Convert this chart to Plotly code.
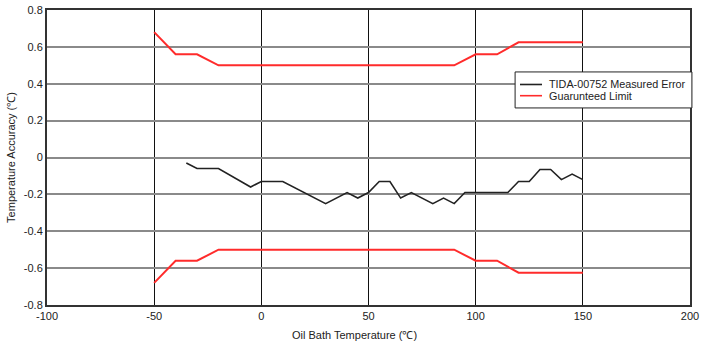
import plotly.graph_objects as go

# Measured error of the TIDA-00752 design vs. oil bath temperature
temp_measured = [-35, -30, -20, -5, 0, 10, 30, 40, 45, 50, 55, 60, 65, 70, 80, 85, 90, 95,
                 115, 120, 125, 130, 135, 140, 145, 150]
error_measured = [-0.03, -0.06, -0.06, -0.16, -0.13, -0.13, -0.25, -0.19, -0.22, -0.19, -0.13,
                  -0.13, -0.22, -0.19, -0.25, -0.22, -0.25, -0.19, -0.19, -0.13, -0.13, -0.065,
                  -0.065, -0.12, -0.09, -0.12]

# Guaranteed accuracy limit (symmetric band)
temp_limit = [-50, -40, -30, -20, 90, 100, 110, 120, 150]
limit_upper = [0.68, 0.56, 0.56, 0.50, 0.50, 0.56, 0.56, 0.625, 0.625]
limit_lower = [-v for v in limit_upper]

x_ticks = [-100, -50, 0, 50, 100, 150, 200]
y_ticks = [0.8, 0.6, 0.4, 0.2, 0, -0.2, -0.4, -0.6, -0.8]
y_tick_text = ["0.8", "0.6", "0.4", "0.2", "0", "-0.2", "-0.4", "-0.6", "-0.8"]
x_tick_text = ["-100", "-50", "0", "50", "100", "150", "200"]

series_names = ["TIDA-00752 Measured Error", "Guarunteed Limit"]

BLACK = "#222222"
RED = "#ff2b2b"
FONT = "Liberation Sans, Arial, sans-serif"

fig = go.Figure()
fig.add_trace(go.Scatter(
    x=temp_measured, y=error_measured, mode="lines",
    name=series_names[0], line=dict(color=BLACK, width=1.6),
))
fig.add_trace(go.Scatter(
    x=temp_limit, y=limit_upper, mode="lines",
    name=series_names[1], line=dict(color=RED, width=2),
))
fig.add_trace(go.Scatter(
    x=temp_limit, y=limit_lower, mode="lines",
    name=series_names[1], line=dict(color=RED, width=2),
))

# Compact boxed legend in the upper right of the plot area
box_x0, box_x1, box_y0, box_y1 = 0.728, 1.003, 0.668, 0.790
row_y = [0.7475, 0.7095]
legend_colors = [BLACK, RED]
shapes = [dict(type="rect", xref="paper", yref="paper",
               x0=box_x0, x1=box_x1, y0=box_y0, y1=box_y1,
               line=dict(color=BLACK, width=1), fillcolor="white", layer="above")]
annotations = []
for name, color, yy in zip(series_names, legend_colors, row_y):
    shapes.append(dict(type="line", xref="paper", yref="paper",
                       x0=0.7356, x1=0.7698, y0=yy, y1=yy,
                       line=dict(color=color, width=1.6), layer="above"))
    annotations.append(dict(xref="paper", yref="paper", x=0.778, y=yy,
                            xanchor="left", yanchor="middle", showarrow=False,
                            text=name, font=dict(size=10.8, color=BLACK)))

# X axis title, set slightly left of the plot centre
annotations.append(dict(xref="paper", yref="paper", x=0.479, y=-0.102,
                        xanchor="center", yanchor="middle", showarrow=False,
                        text="Oil Bath Temperature (℃)", font=dict(size=11, color=BLACK)))

fig.update_layout(
    width=703, height=346,
    margin=dict(l=47, r=13, t=10, b=41),
    paper_bgcolor="white", plot_bgcolor="white",
    font=dict(family=FONT, size=11, color=BLACK),
    showlegend=False,
    shapes=shapes, annotations=annotations,
    xaxis=dict(
        range=[-100, 200], tickvals=x_ticks, ticktext=x_tick_text,
        showgrid=True, gridcolor="#111111", gridwidth=1,
        showline=True, mirror=True, linecolor="#333333", linewidth=2,
        zeroline=False, ticks="", automargin=False,
    ),
    yaxis=dict(
        range=[-0.8, 0.8], tickvals=y_ticks, ticktext=y_tick_text,
        showgrid=True, gridcolor="#8a8a8a", gridwidth=1.6,
        showline=True, mirror=True, linecolor="#333333", linewidth=2,
        zeroline=False, ticks="", automargin=False,
        title=dict(text="Temperature Accuracy (℃)", font=dict(size=11), standoff=6),
    ),
)

fig.write_html("out.html")
